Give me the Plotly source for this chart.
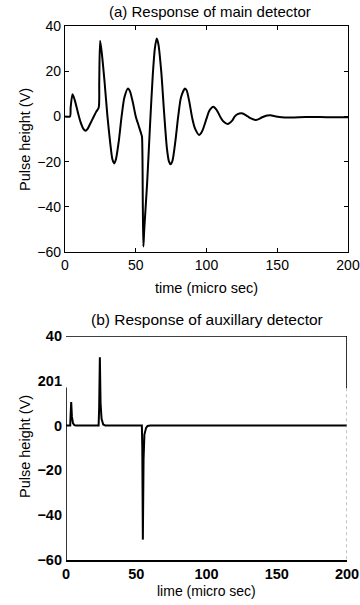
import plotly.graph_objects as go

# ---- data: (a) main detector ----
t_main = [0, 3.5, 4.0, 5.3, 7, 9, 11, 13, 14.5, 16, 18, 20, 22, 23.8,
          24.2, 24.8, 26, 28, 30, 32, 33.5, 34.8, 36, 38, 40, 42, 44.5, 46, 48, 50, 52, 54, 54.4,
          55.0, 55.4, 56, 58, 60, 62, 63.5, 64.8, 66, 68, 70, 72, 73.5, 74.7, 76, 78, 80, 82,
          84.8, 86, 88, 90, 92, 94.9, 97, 100, 102, 104.8, 107, 110, 112, 115, 118, 120, 122,
          124.9, 128, 131, 135, 139, 142, 145, 149, 153, 160, 170, 180, 190, 200]
v_main = [0, 0, 4, 9.8, 7, 2, -2.5, -5.5, -6.3, -5.5, -3, -0.5, 2, 3.8,
          15, 33.5, 28, 15, 0, -12, -19, -20.8, -19, -11, 0, 8.5, 12.4, 11, 6, 0, -4, -8, -9,
          -40, -57.6, -50, -30, -5, 18, 30, 34.5, 32, 20, 2, -14, -20, -21.2, -19.5, -11, 0, 8.5,
          12.4, 11.5, 6, -1, -5.5, -8.2, -6.5, -1, 2.5, 4.3, 3, -0.5, -2.3, -3.4, -2, 0, 1,
          1.4, 0.5, -0.8, -1.6, -0.5, 0.3, 0.5, 0, -0.4, -0.5, -0.3, -0.3, -0.4, -0.4]

# ---- data: (b) auxillary detector ----
t_aux = [0, 3.0, 3.3, 3.7, 4.2, 5, 6, 7, 23.2, 23.6, 24.1, 24.6, 25.3, 26.5, 28,
         54, 54.3, 54.7, 55.2, 55.8, 57, 58, 60, 200]
v_aux = [0, 0, 5, 10.5, 4, 1, 0.2, 0, 0, 8, 30.5, 10, 3, 0.5, 0,
         0, -10, -50.9, -15, -4, -1, -0.2, 0, 0]

x_ticks = [0, 50, 100, 150, 200]
y_ticks = [-60, -40, -20, 0, 20, 40]
y_ticktext_b = ["\u221260", "\u221240", "\u221220", "0", "201", "40"]
y_ticktext_a = ["\u221260", "\u221240", "\u221220", "0", "20", "40"]

W, H = 360, 605
FONT = "Liberation Sans, Arial, Helvetica, sans-serif"

def px(x0, x1):
    return [x0 / W, x1 / W]

def py(ytop, ybot):
    return [1 - ybot / H, 1 - ytop / H]

fig = go.Figure()
fig.add_trace(go.Scatter(x=t_main, y=v_main, mode="lines",
                         line=dict(color="black", width=2, shape="spline", smoothing=0.7),
                         xaxis="x", yaxis="y", showlegend=False, hoverinfo="skip"))
fig.add_trace(go.Scatter(x=t_aux, y=v_aux, mode="lines",
                         line=dict(color="black", width=2), xaxis="x2", yaxis="y2",
                         showlegend=False, hoverinfo="skip"))

tickfont = dict(family=FONT, size=14, color="black")
tickfont_b = dict(family=FONT, size=14.5, color="black", weight="bold")

fig.update_layout(
    width=W, height=H, margin=dict(l=0, r=0, t=0, b=0, autoexpand=False),
    paper_bgcolor="white", plot_bgcolor="white",
    xaxis=dict(domain=px(65, 348), range=[0, 200], tickvals=x_ticks, ticks="inside",
               ticklen=4, tickcolor="black", showline=True, linecolor="black", linewidth=1.2,
               mirror="ticks", showgrid=False, zeroline=False, tickfont=tickfont,
               anchor="y", fixedrange=True, automargin=False),
    yaxis=dict(domain=py(26, 252), range=[-60, 40], tickvals=y_ticks, ticktext=y_ticktext_a,
               ticks="inside", ticklen=4, tickcolor="black", showline=True, linecolor="black",
               linewidth=1.2, mirror="ticks", showgrid=False, zeroline=False, tickfont=tickfont,
               anchor="x", ticklabelstandoff=0, fixedrange=True, automargin=False),
    xaxis2=dict(domain=px(66, 347), range=[0, 200], tickvals=x_ticks, ticks="",
                showline=True, linecolor="black", linewidth=1.6, showgrid=False,
                zeroline=False, tickfont=tickfont_b, anchor="y2", fixedrange=True,
                automargin=False),
    yaxis2=dict(domain=py(336, 560), range=[-60, 40], tickvals=y_ticks, ticktext=y_ticktext_b,
                ticks="", showline=False, showgrid=False, zeroline=False,
                tickfont=tickfont_b, anchor="x2", ticklabelstandoff=3, fixedrange=True,
                automargin=False),
)

# partial frame of panel (b)
fig.add_shape(type="line", xref="x2", yref="y2", x0=0, x1=200, y0=40, y1=40,
              line=dict(color="black", width=1.6))
fig.add_shape(type="line", xref="x2", yref="y2", x0=200, x1=200, y0=40, y1=16.7,
              line=dict(color="black", width=1.6))
fig.add_shape(type="line", xref="x2", yref="y2", x0=200, x1=200, y0=16.7, y1=-60,
              line=dict(color="#9a9a9a", width=1.2, dash="dot"))
fig.add_shape(type="line", xref="x2", yref="y2", x0=0, x1=0, y0=17, y1=-60,
              line=dict(color="black", width=1.6))

def ann(text, x, y, size, angle=0, bold=False):
    fig.add_annotation(text=text, xref="paper", yref="paper", x=x / W, y=1 - y / H,
                       showarrow=False, textangle=angle, xanchor="center", yanchor="middle",
                       font=dict(family=FONT, size=size, color="black",
                                 weight="bold" if bold else "normal"))

ann("(a) Response of main detector", 210, 12, 15)
ann("time (micro sec)", 207, 288, 14.5)
ann("Pulse height (V)", 25, 140, 14.5, angle=-90)
ann("(b) Response of auxillary detector", 207, 319, 15.5)
ann("lime (micro sec)", 207, 591, 14)
ann("Pulse height (V)", 25, 447, 14.5, angle=-90)

fig.write_html("out.html", config={"displayModeBar": False},
               post_script="document.body.style.margin='0';document.body.style.overflow='hidden';")
